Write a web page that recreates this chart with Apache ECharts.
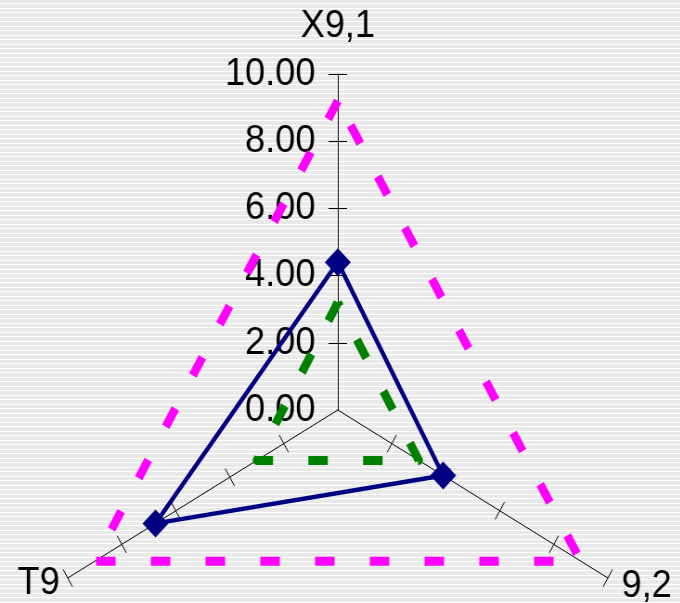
<!DOCTYPE html>
<html>
<head>
<meta charset="utf-8">
<script src="https://cdn.jsdelivr.net/npm/echarts@6/dist/echarts.min.js"></script>
<style>
html, body {
  margin: 0;
  padding: 0;
  width: 680px;
  height: 603px;
  overflow: hidden;
  background: repeating-linear-gradient(to bottom, #e9e9e9 0px, #e9e9e9 3px, #ffffff 3px, #ffffff 4px, #e9e9e9 4px, #e9e9e9 8px, #ffffff 8px, #ffffff 9px);
}
/* the original picture is a bit squeezed sideways */
#myChart {
  width: 733px;
  height: 603px;
  transform: scaleX(0.928);
  transform-origin: 0 0;
}
</style>
</head>
<body>
<div id="myChart"></div>
<script>
// axes, echarts goes top -> lower left -> lower right
var axisNames = ["X9,1", "T9", "9,2"];
var axisMax = 10;
// tick marks (no tick at the centre)
var tickValues = [2, 4, 6, 8, 10];
// series values, same order as axisNames
var magentaValues = [9.2, 9.0, 9.0];
var greenValues = [3.2, 3.0, 3.0];
var navyValues = [4.4, 6.75, 3.9];

var font = "Liberation Sans, Arial, sans-serif";
var center = [364, 410];
var radius = 336;
var nameGaps = [28, 10, 17];

// main radar: line, labels on the top axis only, ticks on one side
var indicators = axisNames.map(function (n, i) {
  var ind = { name: n, min: 0, max: axisMax, nameGap: nameGaps[i] };
  if (i > 0) {
    ind.axisLabel = { show: false };
  }
  return ind;
});
// second radar only draws the other half of the ticks
var indicators2 = axisNames.map(function (n) {
  return { name: n, min: 0, max: axisMax };
});

var option = {
  animation: false,
  radar: [
    {
      center: center,
      radius: radius,
      shape: "polygon",
      splitNumber: 5,
      axisName: { color: "#000", fontSize: 39, fontFamily: font },
      nameGap: 10,
      axisLine: { lineStyle: { color: "#000", width: 1 } },
      axisTick: { show: true, length: 10, customValues: tickValues, lineStyle: { color: "#000", width: 1 } },
      axisLabel: {
        show: true,
        color: "#000",
        fontSize: 39,
        fontFamily: font,
        margin: 24,
        formatter: function (v) { return Number(v).toFixed(2); }
      },
      splitLine: { show: false },
      splitArea: { show: false },
      indicator: indicators
    },
    {
      center: center,
      radius: radius,
      shape: "polygon",
      splitNumber: 5,
      axisName: { show: false },
      axisLine: { show: false },
      axisTick: { show: true, length: -10, customValues: tickValues, lineStyle: { color: "#000", width: 1 } },
      axisLabel: { show: false },
      splitLine: { show: false },
      splitArea: { show: false },
      indicator: indicators2
    }
  ],
  series: [
    {
      type: "radar",
      radarIndex: 0,
      data: [
        {
          value: magentaValues,
          symbol: "none",
          lineStyle: { color: "#ff00ff", width: 9, type: [21, 38] }
        },
        {
          value: greenValues,
          symbol: "none",
          lineStyle: { color: "#008000", width: 9, type: [21, 38] }
        },
        {
          value: navyValues,
          symbol: "diamond",
          symbolSize: 28,
          itemStyle: { color: "#000080" },
          lineStyle: { color: "#000080", width: 4.5, type: "solid" }
        }
      ]
    }
  ]
};

var myChart = echarts.init(document.getElementById("myChart"), null, { renderer: "canvas" });
myChart.setOption(option);
</script>
</body>
</html>
